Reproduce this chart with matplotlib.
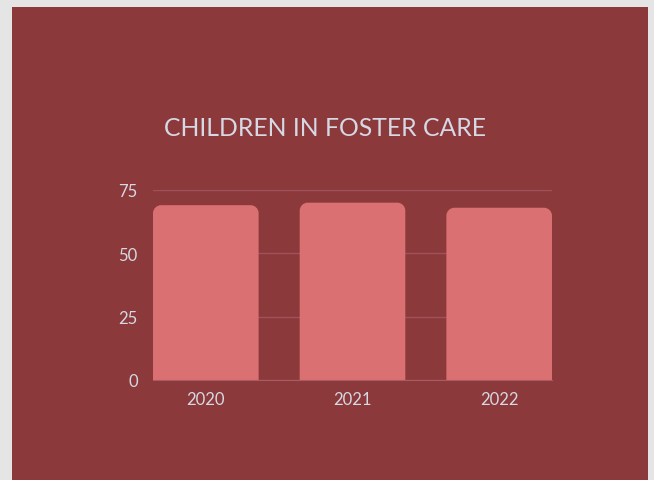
import matplotlib.pyplot as plt
from matplotlib.patches import Rectangle, PathPatch
from matplotlib.path import Path

years = ["2020", "2021", "2022"]
children = [69, 70, 68]
y_ticks = [0, 25, 50, 75]

bg = "#8B393A"
bar_color = "#DB7072"
text_color = "#D6D8E4"

plt.rcParams["font.family"] = ["Lato", "DejaVu Sans"]

fig = plt.figure(figsize=(6.54, 4.81), dpi=100)
fig.patch.set_facecolor("#E5E5E5")
fig.patches.append(Rectangle((12 / 654, 0), 636 / 654, 473 / 481,
                             transform=fig.transFigure, facecolor=bg,
                             edgecolor="none", zorder=-5))

ax = fig.add_axes([153 / 654, 1 - 381 / 481, 399 / 654, 190 / 481])
ax.set_facecolor("none")
ax.set_xlim(-0.36, 2.36)
ax.set_ylim(0, 75)

bars = ax.bar(range(len(years)), children, width=0.72, color=bar_color, zorder=2)

# swap plain bars for ones with rounded top corners (radius in pixels)
r_px = 8
x_per_px = 2.72 / 399
y_per_px = 75 / 190
rx, ry = r_px * x_per_px, r_px * y_per_px
k = 0.5523
for b in bars:
    x0, w, h = b.get_x(), b.get_width(), b.get_height()
    x1 = x0 + w
    verts = [
        (x0, 0), (x0, h - ry),
        (x0, h - ry + k * ry), (x0 + rx - k * rx, h), (x0 + rx, h),
        (x1 - rx, h),
        (x1 - rx + k * rx, h), (x1, h - ry + k * ry), (x1, h - ry),
        (x1, 0), (x0, 0),
    ]
    codes = [Path.MOVETO, Path.LINETO,
             Path.CURVE4, Path.CURVE4, Path.CURVE4,
             Path.LINETO,
             Path.CURVE4, Path.CURVE4, Path.CURVE4,
             Path.LINETO, Path.CLOSEPOLY]
    ax.add_patch(PathPatch(Path(verts, codes), facecolor=bar_color,
                           edgecolor="none", zorder=2))
    b.set_visible(False)

ax.set_yticks(y_ticks)
ax.set_xticks(range(len(years)))
ax.set_xticklabels(years)
ax.grid(axis="y", color="#A0525A", linewidth=1, zorder=1)
ax.set_axisbelow(True)
for s in ["top", "right", "left"]:
    ax.spines[s].set_visible(False)
ax.spines["bottom"].set_color("#A85C62")
ax.spines["bottom"].set_zorder(3)
ax.tick_params(length=0, colors=text_color, labelsize=12)
ax.tick_params(axis="y", pad=11)
ax.tick_params(axis="x", pad=8)

fig.text(325 / 654, 1 - 128 / 481, "CHILDREN IN FOSTER CARE", color=text_color,
         fontsize=17.8, ha="center", va="center")

fig.savefig("out.png", dpi=100, facecolor=fig.get_facecolor())
